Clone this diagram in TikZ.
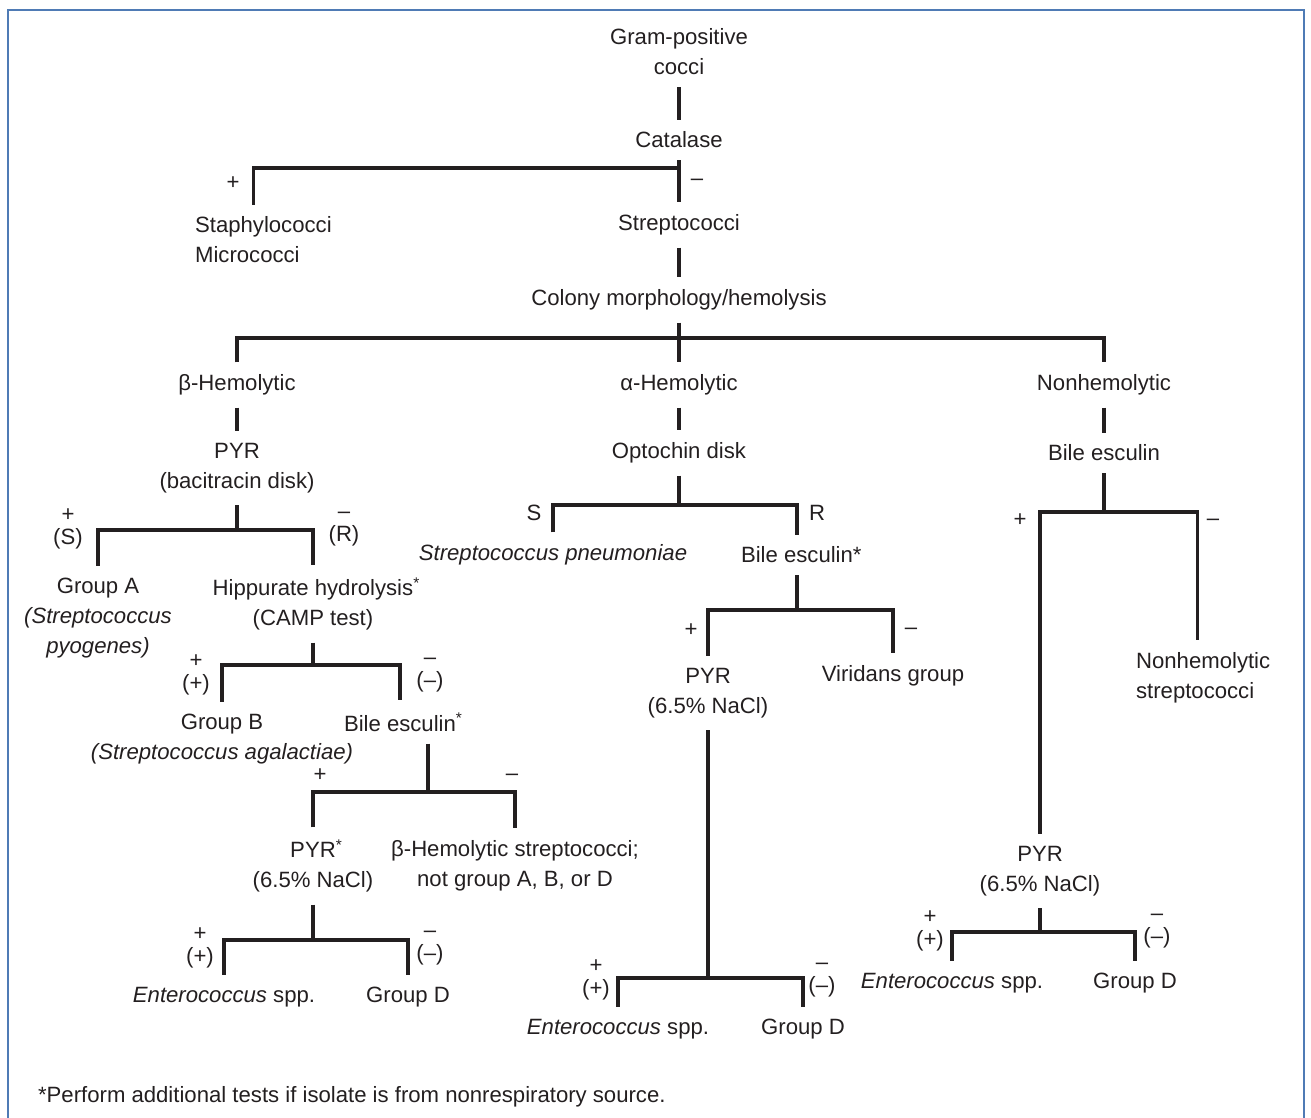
\documentclass[tikz,border=0pt]{standalone}
\usepackage{fontspec}
\setmainfont{Liberation Sans}
\usepackage{tikz}
\usetikzlibrary{calc}
\definecolor{frameblue}{HTML}{4F7BB5}
\definecolor{ink}{HTML}{231F20}
\tikzset{
  lbl/.style={align=center, inner xsep=1pt, inner ysep=0.24cm, text=ink, font=\fontsize{12.6}{17}\selectfont},
  sgn/.style={align=center, inner sep=0pt, text=ink, font=\fontsize{12.6}{13}\selectfont},
  tree/.style={draw=ink, line width=1.8pt}
}

\begin{document}
\begin{tikzpicture}[x=0.02cm, y=-0.02cm]
\useasboundingbox (0,0) rectangle (1311,1118);
% frame, open at the bottom
\draw[frameblue, line width=1.1pt] (8,1118) -- (8,10) -- (1304,10) -- (1304,1118);

% Catalase
\node[lbl] (gram) at (679,52) {Gram-positive\\cocci};
\node[lbl] (catalase) at (679,140) {Catalase};
\node[lbl, align=left, anchor=west] (staph) at (193,240) {Staphylococci\\Micrococci};
\node[lbl] (strep) at (679,225) {Streptococci};
\coordinate (jcat) at (679,168);
\draw[tree] (gram) -- (catalase);
\draw[tree] (catalase) -- (jcat);
\draw[tree] ([xshift=-0.2cm]staph.north) |- (jcat) -| (strep.north);
\node[sgn] (catplus) at (233,183) {+};
\node[sgn] (catminus) at (697,182) {--};

% hemolysis
\node[lbl] (colony) at (679,300) {Colony morphology/hemolysis};
\node[lbl] (beta) at (237,385) {β-Hemolytic};
\node[lbl] (alpha) at (679,385) {α-Hemolytic};
\node[lbl] (nonhem) at (1104,385) {Nonhemolytic};
\coordinate (jcol) at (679,338);
\draw[tree] (strep) -- (colony);
\draw[tree] (colony) -- (alpha);
\draw[tree] (beta.north) |- (jcol) -| (nonhem.north);

% beta-hemolytic
\node[lbl] (pyrA) at (237,468) {PYR\\(bacitracin disk)};
\node[lbl] (grpA) at (98,618) {Group A\\\textit{(Streptococcus}\\\textit{pyogenes)}};
\node[lbl] (hipp) at (313,604) {Hippurate hydrolysis\rlap{\textsuperscript{*}}\\(CAMP test)};
\coordinate (jpyrA) at (237,530);
\draw[tree] (beta) -- (pyrA);
\draw[tree] (pyrA) -- (jpyrA);
\draw[tree] (grpA.north) |- (jpyrA) -| (hipp.north);
\node[sgn] (pyrAplus) at (68,529) {+\\(S)};
\node[sgn] (pyrAminus) at (344,529) {--\\(R)};

\node[lbl] (grpB) at (222,739) {Group B\\\textit{(Streptococcus agalactiae)}};
\node[lbl] (bileB) at (400,722) {Bile esculin\rlap{\textsuperscript{*}}};
\coordinate (jhipp) at (313,665);
\draw[tree] (hipp) -- (jhipp);
\draw[tree] (grpB.north) |- (jhipp) -| (bileB.north);

\node[lbl] (pyrB) at (313,866) {PYR\rlap{\textsuperscript{*}}\\(6.5\% NaCl)};
\node[lbl] (betaX) at (515,866) {β-Hemolytic streptococci;\\not group A, B, or D};
\coordinate (jbileB) at (428,792);
\draw[tree] (jbileB |- bileB.south) -- (jbileB);
\draw[tree] (pyrB.north) |- (jbileB) -| (betaX.north);
\node[sgn] (bileBplus) at (320,775) {+};
\node[sgn] (bileBminus) at (512,777) {--};

\node[lbl] (entB) at (224,997) {\textit{Enterococcus} spp.};
\node[lbl] (grpDB) at (408,997) {Group D};
\coordinate (jpyrB) at (313,940);
\draw[tree] (pyrB) -- (jpyrB);
\draw[tree] (entB.north) |- (jpyrB) -| (grpDB.north);

% alpha-hemolytic
\node[lbl] (opto) at (679,453) {Optochin disk};
\node[lbl] (pneu) at (553,555) {\textit{Streptococcus pneumoniae}};
\node[lbl] (bileM) at (797,555) {Bile esculin\rlap{*}};
\coordinate (jopto) at (679,505);
\draw[tree] (alpha) -- (opto);
\draw[tree] (opto) -- (jopto);
\draw[tree] (pneu.north) |- (jopto) -| (bileM.north);
\node[sgn] (optoS) at (534,513) {S};
\node[sgn] (optoR) at (817,513) {R};

\node[lbl] (pyrM) at (708,693) {PYR\\(6.5\% NaCl)};
\node[lbl] (virid) at (893,676) {Viridans group};
\coordinate (jbileM) at (797,610);
\draw[tree] (bileM) -- (jbileM);
\draw[tree] (pyrM.north) |- (jbileM) -| (virid.north);
\node[sgn] (bileMplus) at (691,630) {+};
\node[sgn] (bileMminus) at (911,631) {--};

\node[lbl] (entM) at (618,1029) {\textit{Enterococcus} spp.};
\node[lbl] (grpDM) at (803,1029) {Group D};
\coordinate (jpyrM) at (708,978);
\draw[tree] (pyrM) -- (jpyrM);
\draw[tree] (entM.north) |- (jpyrM) -| (grpDM.north);

% nonhemolytic
\node[lbl] (bileN) at (1104,453) {Bile esculin};
\node[lbl] (pyrN) at (1040,871) {PYR\\(6.5\% NaCl)};
\node[lbl, align=left, anchor=west] (nonstrep) at (1134,678) {Nonhemolytic\\streptococci};
\coordinate (jbileN) at (1104,512);
\draw[tree] (nonhem) -- (bileN);
\draw[tree] (bileN) -- (jbileN);
\draw[tree] (pyrN.north) |- (jbileN) -| ([xshift=-0.12cm]nonstrep.north);
\node[sgn] (bileNplus) at (1020,520) {+};
\node[sgn] (bileNminus) at (1213,522) {--};

\node[lbl] (entN) at (952,983) {\textit{Enterococcus} spp.};
\node[lbl] (grpDN) at (1135,983) {Group D};
\coordinate (jpyrN) at (1040,932);
\draw[tree] (pyrN) -- (jpyrN);
\draw[tree] (entN.north) |- (jpyrN) -| (grpDN.north);

% two-line signs
\foreach \p/\m/\y [count=\i] in {196/430/675, 200/430/948, 596/822/980, 930/1157/931} {
  \node[sgn] (plus\i) at (\p,\y) {+\\(+)};
  \node[sgn] (minus\i) at (\m,\y) {--\\(--)};
}

% footnote
\node[lbl, anchor=west, inner ysep=0pt] (note) at (36,1097) {*Perform additional tests if isolate is from nonrespiratory source.};
\end{tikzpicture}
\end{document}
